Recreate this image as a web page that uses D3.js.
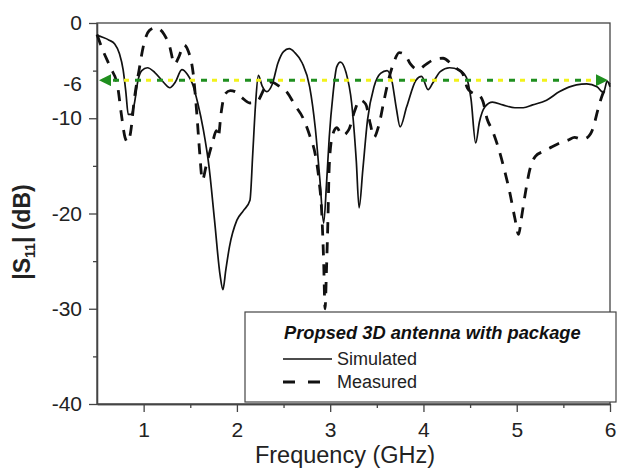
<!DOCTYPE html>
<html>
<head>
<meta charset="utf-8">
<script src="https://cdn.jsdelivr.net/npm/d3@7"></script>
<style>
  body { margin: 0; background: #fff; }
  svg { font-family: "Liberation Sans", Arial, sans-serif; }
</style>
</head>
<body>
<svg id="chart" width="618" height="470"></svg>
<script>
// Simulated |S11| (dB)
const simFreq = [0.50, 0.56, 0.63, 0.69, 0.74, 0.78, 0.81, 0.835, 0.865, 0.90, 0.94, 0.98, 1.04, 1.12, 1.22, 1.28, 1.34, 1.41, 1.47, 1.52,
  1.58, 1.64, 1.70, 1.76, 1.82, 1.85, 1.88, 1.92, 2.00, 2.07, 2.14, 2.17, 2.20, 2.23, 2.27, 2.32, 2.38, 2.44, 2.50, 2.56,
  2.62, 2.70, 2.78, 2.84, 2.89, 2.93, 2.96, 2.99, 3.03, 3.07, 3.11, 3.17, 3.23, 3.28, 3.31, 3.35, 3.40, 3.47, 3.54, 3.61,
  3.66, 3.71, 3.75, 3.82, 3.92, 3.98, 4.05, 4.10, 4.18, 4.28, 4.38, 4.46, 4.51, 4.56, 4.60, 4.66, 4.74, 4.85, 4.98, 5.07,
  5.17, 5.32, 5.46, 5.64, 5.75, 5.86, 5.93, 5.97, 6.00];
const simDb = [-1.3, -1.5, -1.8, -2.2, -3.2, -4.9, -7.3, -9.6, -9.6, -8.5, -6.0, -5.0, -4.7, -5.2, -6.3, -6.8, -6.2, -4.9, -5.4, -6.3,
  -8.4, -11.2, -15.0, -20.7, -26.5, -28.0, -26.0, -23.5, -20.7, -19.7, -18.6, -13.7, -8.5, -5.5, -6.6, -7.2, -6.4, -4.2, -3.0, -2.7,
  -3.1, -4.2, -6.7, -11.0, -16.5, -21.0, -17.0, -12.0, -7.5, -4.6, -4.1, -5.2, -8.4, -14.5, -19.4, -15.4, -10.2, -6.7, -5.3, -5.0,
  -6.0, -9.0, -10.9, -8.8, -6.0, -5.6, -7.0, -6.3, -5.1, -4.7, -4.9, -5.7, -8.0, -12.6, -10.4, -8.8, -8.3, -8.6, -8.9, -8.9,
  -8.6, -8.1, -7.2, -6.5, -6.4, -6.7, -7.3, -6.1, -6.7];

// Measured |S11| (dB)
const measFreq = [0.50, 0.56, 0.64, 0.72, 0.76, 0.80, 0.83, 0.86, 0.90, 0.95, 1.00, 1.06, 1.13, 1.22, 1.28, 1.33, 1.38, 1.43, 1.48, 1.53,
  1.57, 1.60, 1.63, 1.67, 1.74, 1.78, 1.80, 1.83, 1.87, 1.93, 1.98, 2.05, 2.14, 2.22, 2.30, 2.37, 2.45, 2.54, 2.62, 2.71,
  2.78, 2.84, 2.88, 2.91, 2.93, 2.945, 2.96, 2.975, 2.99, 3.02, 3.07, 3.13, 3.20, 3.26, 3.32, 3.38, 3.43, 3.47, 3.52, 3.58,
  3.63, 3.68, 3.74, 3.80, 3.86, 3.94, 4.02, 4.10, 4.21, 4.30, 4.36, 4.42, 4.47, 4.52, 4.60, 4.64, 4.68, 4.74, 4.80, 4.87,
  4.93, 4.98, 5.02, 5.05, 5.09, 5.14, 5.20, 5.28, 5.38, 5.46, 5.55, 5.62, 5.70, 5.76, 5.82, 5.87, 5.92, 6.00];
const measDb = [-1.2, -2.8, -4.6, -6.6, -9.5, -12.0, -12.5, -11.5, -8.0, -5.0, -2.3, -0.8, -0.5, -1.2, -2.5, -4.3, -3.5, -2.3, -3.0, -5.2,
  -9.5, -13.5, -16.5, -15.0, -12.5, -11.3, -12.0, -9.5, -7.5, -7.1, -7.2, -7.8, -8.4, -8.2, -6.8, -6.2, -6.6, -7.3, -8.6, -10.0,
  -11.8, -13.8, -16.5, -20.0, -25.0, -30.0, -26.0, -21.0, -15.0, -12.0, -11.0, -11.8, -11.2, -9.3, -8.1, -8.5, -10.6, -12.0, -10.8, -8.0,
  -5.8, -4.2, -3.1, -3.3, -4.3, -4.9, -4.4, -3.9, -3.7, -4.3, -4.8, -5.3, -6.8, -7.3, -7.6, -8.3, -10.0, -11.3, -13.0, -15.5,
  -18.0, -20.5, -22.2, -20.5, -18.0, -15.4, -14.0, -13.5, -13.0, -12.6, -12.3, -12.0, -12.2, -12.0, -11.0, -9.1, -7.5, -6.3];

const xTicks = [1, 2, 3, 4, 5, 6];
const xMinor = [1.5, 2.5, 3.5, 4.5, 5.5];
const yTicks = [0, -10, -20, -30, -40];
const yMinor = [-5, -15, -25, -35];
const refLevel = -6;

const legendTitle = "Propsed 3D antenna with package";
const seriesNames = ["Simulated", "Measured"];

const svg = d3.select("#chart");

const x = d3.scaleLinear().domain([0.5, 6]).range([97, 610]);
const y = d3.scaleLinear().domain([-40, 0]).range([404, 23]);

const simData = simFreq.map((f, i) => ({ f: f, v: simDb[i] }));
const measData = measFreq.map((f, i) => ({ f: f, v: measDb[i] }));

// frame
svg.append("rect")
    .attr("x", x(0.5)).attr("y", y(0))
    .attr("width", x(6) - x(0.5)).attr("height", y(-40) - y(0))
    .attr("fill", "none").attr("stroke", "#444").attr("stroke-width", 1.3);

// axes
svg.append("g")
    .attr("transform", `translate(0, ${y(-40)})`)
    .call(d3.axisBottom(x).tickValues(xTicks).tickSize(8).tickSizeOuter(0).tickPadding(10).tickFormat(d => String(d)));
svg.append("g")
    .attr("transform", `translate(0, ${y(-40)})`)
    .call(d3.axisBottom(x).tickValues(xMinor).tickSize(4).tickSizeOuter(0).tickFormat(""));

svg.append("g")
    .attr("transform", `translate(${x(0.5)}, 0)`)
    .call(d3.axisLeft(y).tickValues(yTicks).tickSize(8).tickSizeOuter(0).tickPadding(7).tickFormat(d => String(d)));
svg.append("g")
    .attr("transform", `translate(${x(0.5)}, 0)`)
    .call(d3.axisLeft(y).tickValues(yMinor).tickSize(4).tickSizeOuter(0).tickFormat(""));

svg.selectAll(".domain, .tick line").attr("stroke", "#444").attr("stroke-width", 1.3);
svg.selectAll(".tick text").attr("font-size", 21).attr("fill", "#222");

// -6 label
svg.append("text")
    .attr("x", x(0.5) - 15).attr("y", y(refLevel) + 4)
    .attr("dy", "0.32em").attr("text-anchor", "end")
    .attr("font-size", 21).attr("fill", "#222")
    .text(String(refLevel));

// curves
const line = d3.line()
    .x(d => x(d.f))
    .y(d => y(d.v))
    .curve(d3.curveMonotoneX);

svg.append("path")
    .datum(simData)
    .attr("d", line)
    .attr("fill", "none").attr("stroke", "#111").attr("stroke-width", 1.7);

svg.append("path")
    .datum(measData)
    .attr("d", line)
    .attr("fill", "none").attr("stroke", "#111").attr("stroke-width", 2.8)
    .attr("stroke-dasharray", "11,9");

// -6 dB reference with arrows
const defs = svg.append("defs");
defs.append("marker")
    .attr("id", "arrow")
    .attr("viewBox", "0 0 10 10")
    .attr("refX", 10).attr("refY", 5)
    .attr("markerWidth", 5).attr("markerHeight", 4)
    .attr("markerUnits", "strokeWidth")
    .attr("orient", "auto-start-reverse")
    .append("path")
    .attr("d", "M0,0 L10,5 L0,10 Z")
    .attr("fill", "#1f8f1f");

svg.append("line")
    .attr("x1", x(0.5) + 2).attr("x2", x(6) - 2)
    .attr("y1", y(refLevel)).attr("y2", y(refLevel))
    .attr("stroke", "#f2f21a").attr("stroke-width", 3)
    .attr("stroke-dasharray", "5,17").attr("stroke-dashoffset", -3);

svg.append("line")
    .attr("x1", x(0.5) + 2).attr("x2", x(6) - 2)
    .attr("y1", y(refLevel)).attr("y2", y(refLevel))
    .attr("stroke", "#1f8f1f").attr("stroke-width", 3)
    .attr("stroke-dasharray", "6,16").attr("stroke-dashoffset", -14)
    .attr("marker-start", "url(#arrow)")
    .attr("marker-end", "url(#arrow)");

// legend
const lg = svg.append("g");
lg.append("rect")
    .attr("x", 245).attr("y", 312).attr("width", 371).attr("height", 90)
    .attr("fill", "#fff").attr("stroke", "#444").attr("stroke-width", 1.2);
lg.append("text")
    .attr("x", 284).attr("y", 339)
    .attr("font-size", 18.3).attr("font-weight", "bold").attr("font-style", "italic")
    .attr("fill", "#111")
    .text(legendTitle);

const legendRows = [
    { name: seriesNames[0], dash: null, width: 1.7, y: 359 },
    { name: seriesNames[1], dash: "12,13", width: 2.8, y: 382 }
];
legendRows.forEach(r => {
    lg.append("line")
        .attr("x1", 283).attr("x2", r.dash ? 320 : 332)
        .attr("y1", r.y).attr("y2", r.y)
        .attr("stroke", "#111").attr("stroke-width", r.width)
        .attr("stroke-dasharray", r.dash);
    lg.append("text")
        .attr("x", 337).attr("y", r.y).attr("dy", "0.35em")
        .attr("font-size", 18).attr("fill", "#222")
        .text(r.name);
});

// axis titles
svg.append("text")
    .attr("x", 345).attr("y", 463)
    .attr("text-anchor", "middle")
    .attr("font-size", 23.5).attr("fill", "#222")
    .text("Frequency (GHz)");

const yTitle = svg.append("text")
    .attr("transform", `translate(30, ${232}) rotate(-90)`)
    .attr("text-anchor", "middle")
    .attr("font-size", 23).attr("font-weight", "bold").attr("fill", "#222");
yTitle.append("tspan").text("|S");
yTitle.append("tspan").attr("font-size", 14).attr("dy", 5).text("11");
yTitle.append("tspan").attr("dy", -5).text("| (dB)");
</script>
</body>
</html>
